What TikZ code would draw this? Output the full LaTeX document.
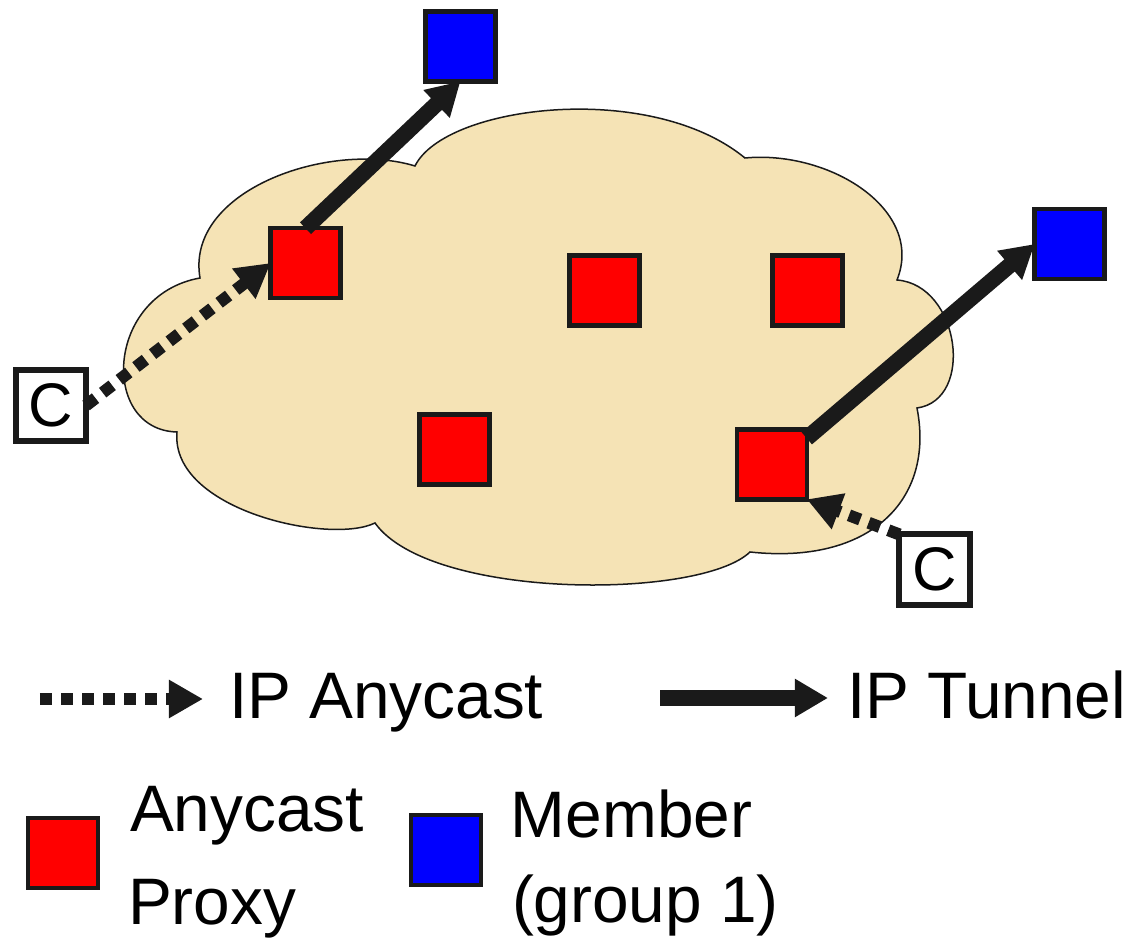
\documentclass[tikz,border=0pt]{standalone}
\usepackage{fontspec}
\setmainfont{Liberation Sans}
\usetikzlibrary{arrows.meta}
\definecolor{cloudfill}{RGB}{245,227,181}
\definecolor{ink}{RGB}{26,26,26}
\definecolor{proxyred}{RGB}{255,0,0}
\definecolor{memberblue}{RGB}{0,0,255}
\begin{document}
\begin{tikzpicture}[x=0.01cm,y=-0.01cm,
  proxy/.style={draw=ink,line width=0.045cm,fill=proxyred,minimum size=0.695cm,inner sep=0,outer sep=0},
  member/.style={proxy,fill=memberblue},
  client/.style={draw=ink,line width=0.06cm,fill=white,minimum size=0.7cm,inner sep=0,outer sep=0,font=\fontsize{17.5pt}{20pt}\selectfont},
  tunnel/.style={draw=ink,line width=0.16cm,-{Triangle[length=0.33cm,width=0.36cm]}},
  anycast/.style={draw=ink,line width=0.12cm,dash pattern=on 0.12cm off 0.09cm,-{Triangle[length=0.34cm,width=0.36cm]}},
  legendtext/.style={anchor=base west,inner sep=0,outer sep=0,font=\fontsize{18.7pt}{22pt}\selectfont}]
\useasboundingbox (0,0) rectangle (1135,946);
% cloud
\draw[fill=cloudfill,draw=ink,line width=0.015cm]
  (200,278) .. controls (185,190) and (330,140) .. (415,166)
  .. controls (445,105) and (650,80) .. (745,158)
  .. controls (830,150) and (925,210) .. (897,280)
  .. controls (960,285) and (975,400) .. (917,408)
  .. controls (935,500) and (870,565) .. (750,552)
  .. controls (700,600) and (430,600) .. (375,523)
  .. controls (330,545) and (170,510) .. (177,432)
  .. controls (100,430) and (105,295) .. cycle;
% nodes
\node[member] (b1) at (460.5,46.5) {};
\node[member] (b2) at (1069.5,244) {};
\node[proxy] (r1) at (305.5,263) {};
\node[proxy] (r2) at (604.5,290.5) {};
\node[proxy] (r3) at (807.5,290.5) {};
\node[proxy] (r4) at (454.5,449.5) {};
\node[proxy] (r5) at (772,464.5) {};
\node[client] (c1) at (51,405.5) {C};
\node[client] (c2) at (934.5,569.5) {C};
% connectors
\draw[tunnel] (r1.north) -- (b1.south);
\draw[tunnel] (r5.37) -- (b2.west);
\draw[anycast] (c1.east) -- (r1.west);
\draw[anycast] (c2.north west) -- (r5.south east);
% legend
\coordinate (la0) at (40,699);
\coordinate (la1) at (203,699);
\draw[anycast] (la0) -- (la1);
\node[legendtext] (lat) at (229,719) {IP Anycast};
\coordinate (lt0) at (660,698);
\coordinate (lt1) at (828,698);
\draw[tunnel] (lt0) -- (lt1);
\node[legendtext] (ltt) at (847,719) {IP Tunnel};
\node[proxy] (lr) at (63,853) {};
\node[legendtext] (lrt1) at (130,832) {Anycast};
\node[legendtext] (lrt2) at (128,925) {Proxy};
\node[member] (lb) at (446,850) {};
\node[legendtext] (lbt1) at (511,838) {Member};
\node[legendtext] (lbt2) at (512,923) {(group 1)};
\end{tikzpicture}
\end{document}
